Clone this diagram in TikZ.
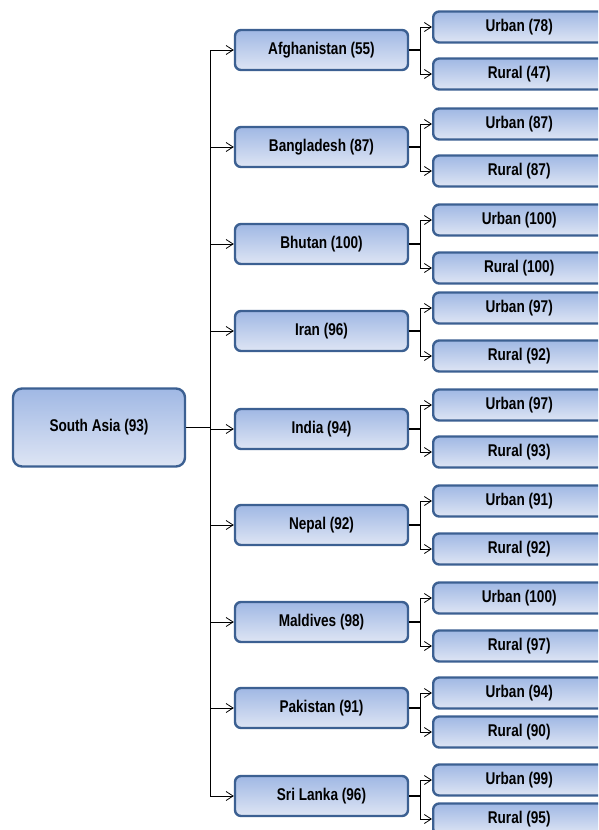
\documentclass[tikz,border=0pt]{standalone}
\usepackage{fontspec}
\setmainfont{Liberation Sans}[FakeStretch=0.8]
\usetikzlibrary{arrows.meta}
\definecolor{bordc}{RGB}{60,96,146}
\definecolor{topc}{RGB}{160,184,228}
\definecolor{botc}{RGB}{222,229,244}
\tikzset{
  boxbase/.style={draw=bordc, line width=2.4pt, rounded corners=6pt, top color=topc, bottom color=botc,
    font=\bfseries\fontsize{17}{19}\selectfont, inner sep=0pt, align=center},
  rootbox/.style={boxbase, minimum width=172pt, minimum height=78pt, rounded corners=9pt},
  cbox/.style={boxbase, minimum width=173pt, minimum height=40pt},
  lbox/.style={boxbase, minimum width=172pt, minimum height=31pt, anchor=west},
  arr/.style={-{Straight Barb[length=7pt,width=9pt]}, line width=0.8pt},
  link/.style={line width=1.6pt},
  thinl/.style={line width=0.9pt}
}
\begin{document}
\begin{tikzpicture}[x=1pt,y=-1pt]
\useasboundingbox (0,0) rectangle (598,830);
\clip (0,0) rectangle (598,830);
\node[rootbox] (root) at (99,427.5) {South Asia (93)};
\coordinate (trunk) at (210,0);
\coordinate (fork) at (420,0);
\foreach \n/\lab/\y/\uy/\ulab/\ry/\rlab in {
  af/Afghanistan (55)/50/27/Urban (78)/74/Rural (47),
  bd/Bangladesh (87)/147/124/Urban (87)/171/Rural (87),
  bt/Bhutan (100)/244/220/Urban (100)/268/Rural (100),
  ir/Iran (96)/331/308/Urban (97)/356/Rural (92),
  in/India (94)/429/405/Urban (97)/452/Rural (93),
  np/Nepal (92)/525/501/Urban (91)/549/Rural (92),
  mv/Maldives (98)/622/598/Urban (100)/646/Rural (97),
  pk/Pakistan (91)/708/693/Urban (94)/732/Rural (90),
  lk/Sri Lanka (96)/796/780/Urban (99)/819/Rural (95)}{
  \node[cbox] (\n) at (321.5,\y) {\lab};
  \node[lbox] (\n U) at (432,\uy) {\ulab};
  \node[lbox] (\n R) at (432,\ry) {\rlab};
  \coordinate (\n F) at (fork |- \n);
  \draw[link] (\n) -- (\n F);
  \draw[arr] (\n F) |- (\n U);
  \draw[arr] (\n F) |- (\n R);
  \draw[arr] (trunk |- \n) -- (\n);
}
\draw[thinl] (trunk |- af) -- (trunk |- lk);
\draw[link] (root) -- (trunk |- root);
\end{tikzpicture}
\end{document}
